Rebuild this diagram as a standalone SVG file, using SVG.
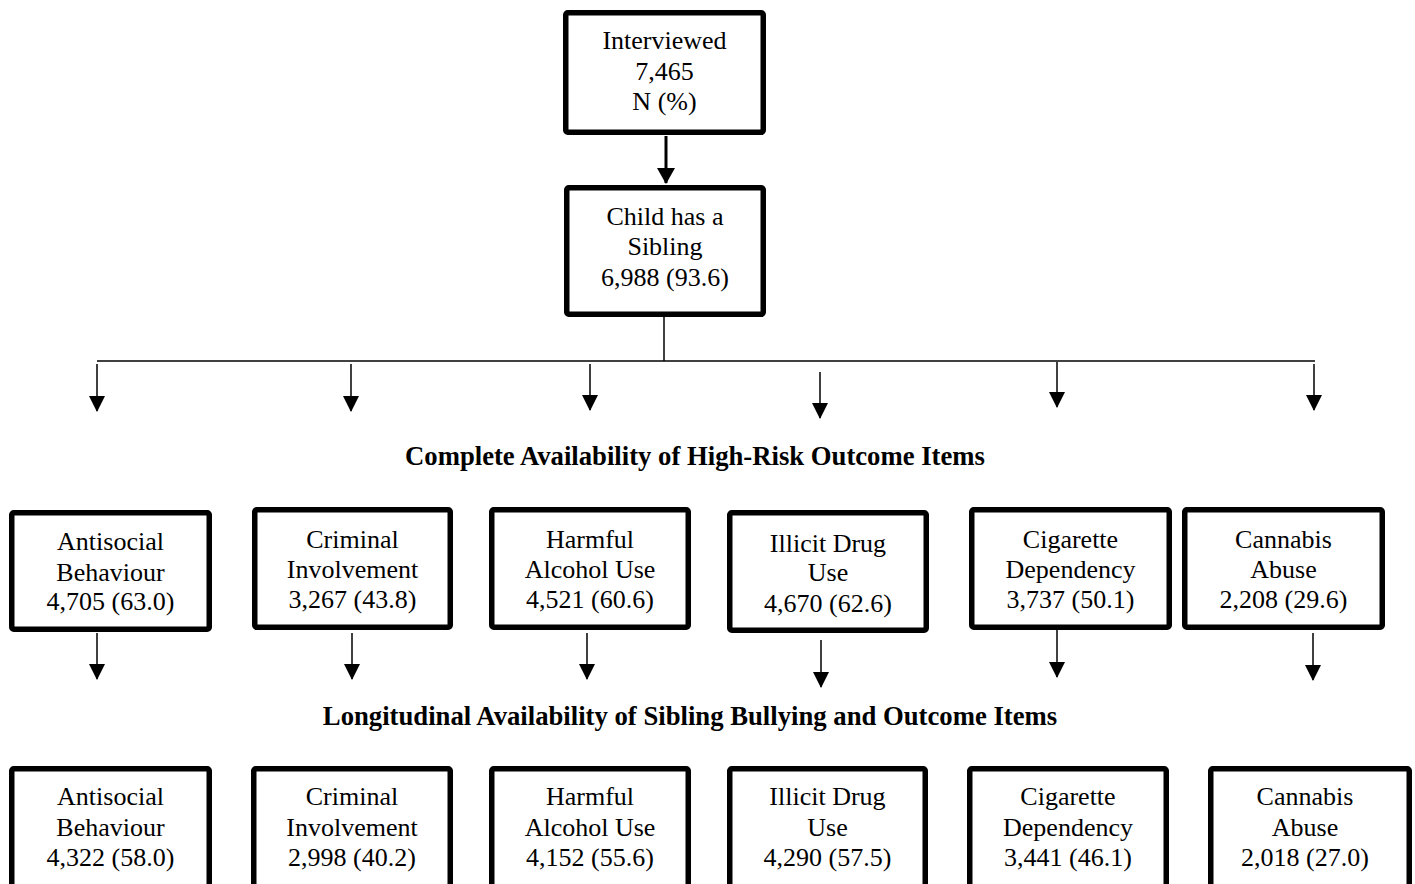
<svg xmlns="http://www.w3.org/2000/svg" width="1415" height="884" viewBox="0 0 1415 884">
<style>
  .box { fill: #fff; stroke: #000; stroke-width: 5.5; }
  .t { font-family: "Liberation Serif", "Times New Roman", serif; font-size: 26px; fill: #000; text-anchor: middle; }
  .h { font-family: "Liberation Serif", "Times New Roman", serif; font-size: 26.7px; font-weight: bold; fill: #000; text-anchor: middle; }
  .c { stroke: #000; stroke-width: 1.5; fill: none; }
  .thick { stroke: #000; stroke-width: 3; fill: none; }
</style>
<defs>
  <marker id="ah" viewBox="0 0 16 16" markerUnits="userSpaceOnUse" markerWidth="16" markerHeight="16" refX="15" refY="8" orient="auto">
    <path d="M0,0 L16,8 L0,16 z" fill="#000"/>
  </marker>
  <marker id="ahb" viewBox="0 0 16 18" markerUnits="userSpaceOnUse" markerWidth="16" markerHeight="18" refX="15" refY="9" orient="auto">
    <path d="M0,0 L16,9 L0,18 z" fill="#000"/>
  </marker>
</defs>
<rect width="1415" height="884" fill="#fff"/>

<g id="connectors">
  <line class="thick" x1="666" y1="136" x2="666" y2="183" marker-end="url(#ahb)"/>
  <line class="c" x1="664" y1="317" x2="664" y2="361"/>
  <line class="c" x1="97" y1="361" x2="1315" y2="361"/>
  <line class="c" x1="97" y1="364" x2="97" y2="411" marker-end="url(#ah)"/>
  <line class="c" x1="351" y1="364" x2="351" y2="411" marker-end="url(#ah)"/>
  <line class="c" x1="590" y1="364" x2="590" y2="410" marker-end="url(#ah)"/>
  <line class="c" x1="820" y1="372" x2="820" y2="418" marker-end="url(#ah)"/>
  <line class="c" x1="1057" y1="362" x2="1057" y2="407" marker-end="url(#ah)"/>
  <line class="c" x1="1314" y1="364" x2="1314" y2="410" marker-end="url(#ah)"/>
  <line class="c" x1="97" y1="633" x2="97" y2="679" marker-end="url(#ah)"/>
  <line class="c" x1="352" y1="633" x2="352" y2="679" marker-end="url(#ah)"/>
  <line class="c" x1="587" y1="633" x2="587" y2="679" marker-end="url(#ah)"/>
  <line class="c" x1="821" y1="640" x2="821" y2="687" marker-end="url(#ah)"/>
  <line class="c" x1="1057" y1="630" x2="1057" y2="677" marker-end="url(#ah)"/>
  <line class="c" x1="1313" y1="633" x2="1313" y2="680" marker-end="url(#ah)"/>
</g>

<g id="interviewed">
  <rect class="box" x="565.75" y="12.75" width="197.5" height="119.5" rx="2"/>
  <text class="t" x="664.5" y="49">Interviewed</text>
  <text class="t" x="664.5" y="80">7,465</text>
  <text class="t" x="664.5" y="110">N (%)</text>
</g>

<g id="sibling">
  <rect class="box" x="566.75" y="187.75" width="196.5" height="126.5" rx="2"/>
  <text class="t" x="665" y="225">Child has a</text>
  <text class="t" x="665" y="255">Sibling</text>
  <text class="t" x="665" y="286">6,988 (93.6)</text>
</g>

<text class="h" x="695" y="465">Complete Availability of High-Risk Outcome Items</text>

<g id="m-antisocial">
  <rect class="box" x="11.75" y="512.75" width="197.5" height="116.5" rx="2"/>
  <text class="t" x="110.5" y="550">Antisocial</text>
  <text class="t" x="110.5" y="581">Behaviour</text>
  <text class="t" x="110.5" y="610">4,705 (63.0)</text>
</g>
<g id="m-criminal">
  <rect class="box" x="254.75" y="509.75" width="195.5" height="117.5" rx="2"/>
  <text class="t" x="352.5" y="548">Criminal</text>
  <text class="t" x="352.5" y="578">Involvement</text>
  <text class="t" x="352.5" y="608">3,267 (43.8)</text>
</g>
<g id="m-alcohol">
  <rect class="box" x="491.75" y="509.75" width="196.5" height="117.5" rx="2"/>
  <text class="t" x="590" y="548">Harmful</text>
  <text class="t" x="590" y="578">Alcohol Use</text>
  <text class="t" x="590" y="608">4,521 (60.6)</text>
</g>
<g id="m-drug">
  <rect class="box" x="729.75" y="512.75" width="196.5" height="117.5" rx="2"/>
  <text class="t" x="828" y="552">Illicit Drug</text>
  <text class="t" x="828" y="581">Use</text>
  <text class="t" x="828" y="612">4,670 (62.6)</text>
</g>
<g id="m-cigarette">
  <rect class="box" x="971.75" y="509.75" width="197.5" height="117.5" rx="2"/>
  <text class="t" x="1070.5" y="548">Cigarette</text>
  <text class="t" x="1070.5" y="578">Dependency</text>
  <text class="t" x="1070.5" y="608">3,737 (50.1)</text>
</g>
<g id="m-cannabis">
  <rect class="box" x="1184.75" y="509.75" width="197.5" height="117.5" rx="2"/>
  <text class="t" x="1283.5" y="548">Cannabis</text>
  <text class="t" x="1283.5" y="578">Abuse</text>
  <text class="t" x="1283.5" y="608">2,208 (29.6)</text>
</g>

<text class="h" x="690" y="725">Longitudinal Availability of Sibling Bullying and Outcome Items</text>

<g id="l-antisocial">
  <rect class="box" x="11.75" y="768.75" width="197.5" height="140" rx="2"/>
  <text class="t" x="110.5" y="805">Antisocial</text>
  <text class="t" x="110.5" y="836">Behaviour</text>
  <text class="t" x="110.5" y="866">4,322 (58.0)</text>
</g>
<g id="l-criminal">
  <rect class="box" x="253.75" y="768.75" width="196.5" height="140" rx="2"/>
  <text class="t" x="352" y="805">Criminal</text>
  <text class="t" x="352" y="836">Involvement</text>
  <text class="t" x="352" y="866">2,998 (40.2)</text>
</g>
<g id="l-alcohol">
  <rect class="box" x="491.75" y="768.75" width="196.5" height="140" rx="2"/>
  <text class="t" x="590" y="805">Harmful</text>
  <text class="t" x="590" y="836">Alcohol Use</text>
  <text class="t" x="590" y="866">4,152 (55.6)</text>
</g>
<g id="l-drug">
  <rect class="box" x="729.75" y="768.75" width="195.5" height="140" rx="2"/>
  <text class="t" x="827.5" y="805">Illicit Drug</text>
  <text class="t" x="827.5" y="836">Use</text>
  <text class="t" x="827.5" y="866">4,290 (57.5)</text>
</g>
<g id="l-cigarette">
  <rect class="box" x="969.75" y="768.75" width="196.5" height="140" rx="2"/>
  <text class="t" x="1068" y="805">Cigarette</text>
  <text class="t" x="1068" y="836">Dependency</text>
  <text class="t" x="1068" y="866">3,441 (46.1)</text>
</g>
<g id="l-cannabis">
  <rect class="box" x="1210.75" y="768.75" width="198.5" height="140" rx="2"/>
  <text class="t" x="1305" y="805">Cannabis</text>
  <text class="t" x="1305" y="836">Abuse</text>
  <text class="t" x="1305" y="866">2,018 (27.0)</text>
</g>
</svg>
